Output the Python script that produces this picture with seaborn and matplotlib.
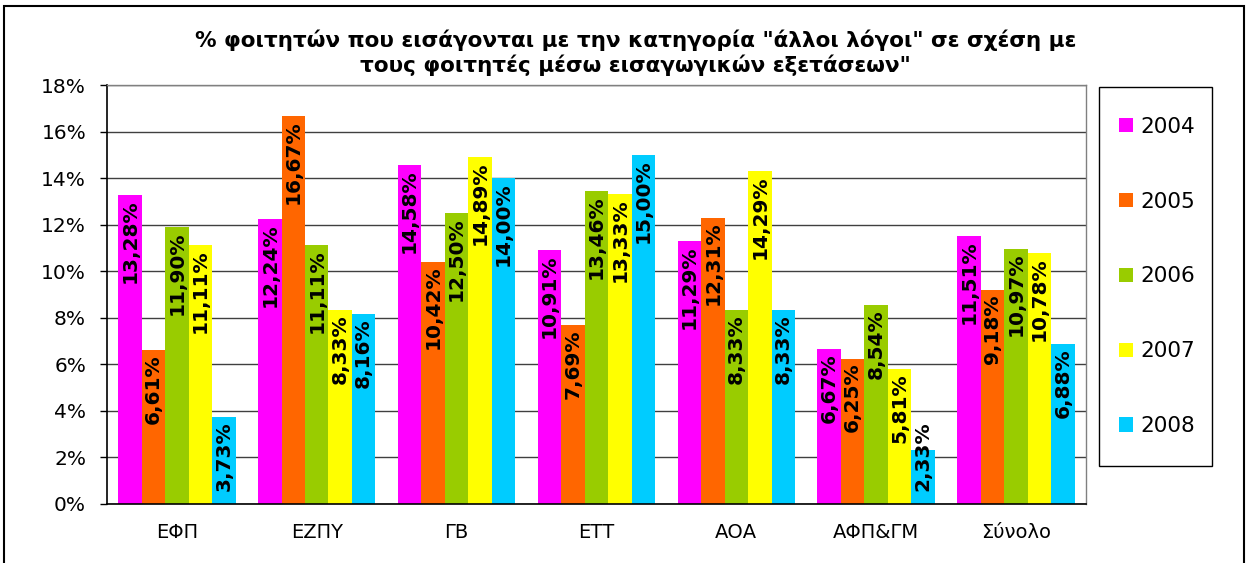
import pandas as pd
import matplotlib.pyplot as plt
import matplotlib.patches as mpatches
import seaborn as sns

categories = ["ΕΦΠ", "ΕΖΠΥ", "ΓΒ", "ΕΤΤ", "ΑΟΑ", "ΑΦΠ&ΓΜ", "Σύνολο"]
years = ["2004", "2005", "2006", "2007", "2008"]
v2004 = [13.28, 12.24, 14.58, 10.91, 11.29, 6.67, 11.51]
v2005 = [6.61, 16.67, 10.42, 7.69, 12.31, 6.25, 9.18]
v2006 = [11.90, 11.11, 12.50, 13.46, 8.33, 8.54, 10.97]
v2007 = [11.11, 8.33, 14.89, 13.33, 14.29, 5.81, 10.78]
v2008 = [3.73, 8.16, 14.00, 15.00, 8.33, 2.33, 6.88]
yticks = [0, 2, 4, 6, 8, 10, 12, 14, 16, 18]
colors = ["#FF00FF", "#FF6600", "#99CC00", "#FFFF00", "#00CCFF"]

series = [v2004, v2005, v2006, v2007, v2008]
rows = []
for year, vals in zip(years, series):
    for cat, v in zip(categories, vals):
        rows.append({"cat": cat, "year": year, "val": v})
df = pd.DataFrame(rows)

sns.set_style("white")
plt.rcParams["font.family"] = ["DejaVu Sans"]
plt.rcParams["text.color"] = "black"
plt.rcParams["xtick.color"] = "black"
plt.rcParams["ytick.color"] = "black"

fig = plt.figure(figsize=(12.48, 5.63), dpi=100)
ax = fig.add_axes([0.0857, 0.1048, 0.7845, 0.744])

sns.barplot(data=df, x="cat", y="val", hue="year", order=categories,
            hue_order=years, palette=dict(zip(years, colors)),
            saturation=1, width=0.84, linewidth=0, ax=ax)

handles, labels = ax.get_legend_handles_labels()
ax.get_legend().remove()

ax.set_ylim(0, 18)
ax.set_xlim(-0.5, len(categories) - 0.5)
ax.set_yticks(yticks)
ax.set_yticklabels([f"{t}%" for t in yticks], fontsize=14.5)
ax.set_xlabel("")
ax.set_ylabel("")
ax.tick_params(axis="x", length=0, labelsize=14, pad=14)
ax.set_xticks([i - 0.5 for i in range(len(categories) + 1)], minor=True)
ax.tick_params(axis="x", which="minor", length=6, color="black", width=1)
ax.tick_params(axis="y", length=5, color="black", width=1, left=True, pad=10)
ax.yaxis.grid(True, color="#404040", linewidth=1)
ax.set_axisbelow(True)
for s in ["left", "bottom"]:
    ax.spines[s].set_color("black")
    ax.spines[s].set_linewidth(1.2)
for s in ["top", "right"]:
    ax.spines[s].set_color("#808080")
    ax.spines[s].set_linewidth(1)

# bar value labels
for cont in ax.containers:
    for bar in cont:
        v = bar.get_height()
        x = bar.get_x() + bar.get_width() / 2
        txt = f"{v:.2f}%".replace(".", ",")
        if v < 4:
            ax.annotate(txt, xy=(x, 0), xytext=(0, 9), textcoords="offset points",
                        rotation=90, ha="center", va="bottom",
                        fontsize=14.5, fontweight="bold", color="black")
        else:
            ax.annotate(txt, xy=(x, v), xytext=(0, -3), textcoords="offset points",
                        rotation=90, ha="center", va="top",
                        fontsize=14.5, fontweight="bold", color="black")

fig.text(0.509, 0.907, "% φοιτητών που εισάγονται με την κατηγορία \"άλλοι λόγοι\" σε σχέση με\nτους φοιτητές μέσω εισαγωγικών εξετάσεων\"",
         ha="center", va="center", fontsize=15.5, fontweight="bold", linespacing=1.2)

# legend box
fig.patches.append(mpatches.Rectangle((0.8806, 0.1723), 0.0906, 0.6732,
                                      transform=fig.transFigure, fill=False,
                                      edgecolor="black", linewidth=1))
fig.legend(handles, labels, loc="center", bbox_to_anchor=(0.927, 0.509),
           frameon=False, fontsize=15.5, labelspacing=2.55, handlelength=0.65,
           handleheight=0.65, handletextpad=0.35)

# outer chart border
fig.patches.append(mpatches.Rectangle((0.003, -0.01), 0.994, 1.0,
                                      transform=fig.transFigure, fill=False,
                                      edgecolor="black", linewidth=1.5))

fig.savefig("out.png", dpi=100)
